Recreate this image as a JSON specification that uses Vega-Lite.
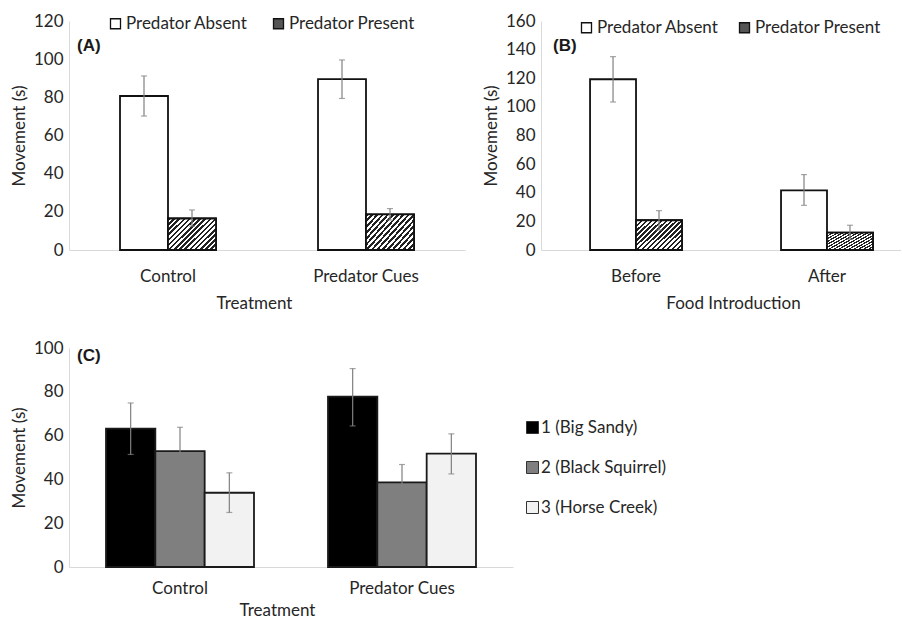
{
  "$schema": "https://vega.github.io/schema/vega-lite/v6.json",
  "padding": {"left": 10, "top": 12, "right": 0, "bottom": 0},
  "background": "white",
  "datasets": {
    "A": [
      {"cat": "Control", "group": "Predator Absent", "mean": 80.7, "lo": 70.2, "hi": 91.2},
      {"cat": "Control", "group": "Predator Present", "mean": 16.5, "lo": 12.5, "hi": 21},
      {"cat": "Predator Cues", "group": "Predator Absent", "mean": 89.5, "lo": 79.4, "hi": 99.6},
      {"cat": "Predator Cues", "group": "Predator Present", "mean": 18.7, "lo": 15.7, "hi": 21.7}
    ],
    "B": [
      {"cat": "Before", "group": "Predator Absent", "mean": 119.3, "lo": 103.4, "hi": 135.1},
      {"cat": "Before", "group": "Predator Present", "mean": 20.8, "lo": 14, "hi": 27.5},
      {"cat": "After", "group": "Predator Absent", "mean": 41.7, "lo": 31.2, "hi": 52.7},
      {"cat": "After", "group": "Predator Present", "mean": 12.2, "lo": 7.5, "hi": 17.3}
    ],
    "C": [
      {"cat": "Control", "site": "1 (Big Sandy)", "mean": 63.2, "lo": 51.4, "hi": 74.9},
      {"cat": "Control", "site": "2 (Black Squirrel)", "mean": 52.9, "lo": 42.3, "hi": 63.8},
      {"cat": "Control", "site": "3 (Horse Creek)", "mean": 33.9, "lo": 24.9, "hi": 43},
      {"cat": "Predator Cues", "site": "1 (Big Sandy)", "mean": 77.8, "lo": 64.4, "hi": 90.6},
      {"cat": "Predator Cues", "site": "2 (Black Squirrel)", "mean": 38.6, "lo": 30.7, "hi": 46.8},
      {"cat": "Predator Cues", "site": "3 (Horse Creek)", "mean": 51.8, "lo": 42.5, "hi": 60.8}
    ]
  },
  "config": {
    "font": "Lato",
    "view": {"stroke": null},
    "axis": {"labelFontSize": 17, "titleFontSize": 17, "titleFontWeight": "normal", "labelColor": "#262626", "titleColor": "#262626", "domainColor": "#d9d9d9", "domainWidth": 1, "ticks": false, "grid": false, "labelFont": "Lato", "titleFont": "Lato", "labelOverlap": false},
    "axisX": {"labelAngle": 0, "labelPadding": 18, "titlePadding": 11},
    "axisY": {"labelPadding": 6, "titlePadding": 5, "labelOverlap": false, "labelSeparation": 0},
    "legend": {"labelFontSize": 17, "labelColor": "#262626", "labelFont": "Lato"},
    "title": {"font": "Liberation Sans", "fontSize": 17, "fontWeight": "bold", "color": "#1a1a1a", "anchor": "start", "frame": "group", "baseline": "middle"}
  },
  "resolve": {"scale": {"x": "independent", "y": "independent", "xOffset": "independent", "fill": "independent"}, "legend": {"fill": "independent"}, "axis": {"x": "independent", "y": "independent"}},
  "spacing": 28,
  "vconcat": [
    {
      "spacing": 17,
      "resolve": {"scale": {"x": "independent", "y": "independent", "xOffset": "independent", "fill": "independent"}, "legend": {"fill": "independent"}, "axis": {"x": "independent", "y": "independent"}},
      "hconcat": [
        {
          "width": 396, "height": 229,
          "title": {"text": "(A)", "dx": 8, "offset": -42.5},
          "data": {"name": "A"},
          "layer": [
            {
              "mark": {"type": "bar", "stroke": "#111111", "strokeWidth": 1.8},
              "encoding": {
                "x": {"field": "cat", "type": "nominal", "scale": {"domain": ["Control", "Predator Cues"], "paddingInner": 0.25, "paddingOuter": 0.125, "align": 0.5}, "axis": {"title": "Treatment", "titleX": 185}},
                "xOffset": {"field": "group", "type": "nominal", "scale": {"domain": ["Predator Absent", "Predator Present"], "paddingInner": 0, "paddingOuter": 0.547}},
                "y": {"field": "mean", "type": "quantitative", "scale": {"domain": [0, 120]}, "axis": {"title": "Movement (s)", "values": [0, 20, 40, 60, 80, 100, 120], "labelOverlap": false}},
                "fill": {"field": "group", "type": "nominal", "scale": {"domain": ["Predator Absent", "Predator Present"], "range": ["#ffffff", "#555555"]},
                  "legend": {"orient": "none", "legendX": 38, "legendY": -6, "direction": "horizontal", "title": null, "symbolType": "square", "symbolSize": 100, "labelOffset": 2, "columnPadding": 22, "symbolStrokeColor": "#111111", "symbolStrokeWidth": 1.3,
                    "encode": {"symbols": {"update": {"fill": [{"test": "datum.value === 'Predator Present'", "value": {"gradient": "linear", "x1": 0, "y1": 0, "x2": 1, "y2": 1, "stops": [{"offset": 0, "color": "#222222"}, {"offset": 0.1, "color": "#222222"}, {"offset": 0.1, "color": "#ffffff"}, {"offset": 0.2, "color": "#ffffff"}, {"offset": 0.2, "color": "#222222"}, {"offset": 0.3, "color": "#222222"}, {"offset": 0.3, "color": "#ffffff"}, {"offset": 0.4, "color": "#ffffff"}, {"offset": 0.4, "color": "#222222"}, {"offset": 0.5, "color": "#222222"}, {"offset": 0.5, "color": "#ffffff"}, {"offset": 0.6, "color": "#ffffff"}, {"offset": 0.6, "color": "#222222"}, {"offset": 0.7, "color": "#222222"}, {"offset": 0.7, "color": "#ffffff"}, {"offset": 0.8, "color": "#ffffff"}, {"offset": 0.8, "color": "#222222"}, {"offset": 0.9, "color": "#222222"}, {"offset": 0.9, "color": "#ffffff"}, {"offset": 1, "color": "#ffffff"}]}}, {"value": "#ffffff"}], "stroke": {"value": "#111111"}, "strokeWidth": {"value": 1.3}}}}
                  }
                }
              }
            },
            {
              "transform": [{"filter": "datum.group === 'Predator Present'"}],
              "mark": {"type": "bar", "stroke": "#111111", "strokeWidth": 1.8, "fill": {"gradient": "linear", "x1": 0, "y1": 0, "x2": 1.2, "y2": 0.8, "stops": [{"offset": 0, "color": "#222222"}, {"offset": 0.03125, "color": "#222222"}, {"offset": 0.03125, "color": "#ffffff"}, {"offset": 0.0625, "color": "#ffffff"}, {"offset": 0.0625, "color": "#222222"}, {"offset": 0.09375, "color": "#222222"}, {"offset": 0.09375, "color": "#ffffff"}, {"offset": 0.125, "color": "#ffffff"}, {"offset": 0.125, "color": "#222222"}, {"offset": 0.15625, "color": "#222222"}, {"offset": 0.15625, "color": "#ffffff"}, {"offset": 0.1875, "color": "#ffffff"}, {"offset": 0.1875, "color": "#222222"}, {"offset": 0.21875, "color": "#222222"}, {"offset": 0.21875, "color": "#ffffff"}, {"offset": 0.25, "color": "#ffffff"}, {"offset": 0.25, "color": "#222222"}, {"offset": 0.28125, "color": "#222222"}, {"offset": 0.28125, "color": "#ffffff"}, {"offset": 0.3125, "color": "#ffffff"}, {"offset": 0.3125, "color": "#222222"}, {"offset": 0.34375, "color": "#222222"}, {"offset": 0.34375, "color": "#ffffff"}, {"offset": 0.375, "color": "#ffffff"}, {"offset": 0.375, "color": "#222222"}, {"offset": 0.40625, "color": "#222222"}, {"offset": 0.40625, "color": "#ffffff"}, {"offset": 0.4375, "color": "#ffffff"}, {"offset": 0.4375, "color": "#222222"}, {"offset": 0.46875, "color": "#222222"}, {"offset": 0.46875, "color": "#ffffff"}, {"offset": 0.5, "color": "#ffffff"}, {"offset": 0.5, "color": "#222222"}, {"offset": 0.53125, "color": "#222222"}, {"offset": 0.53125, "color": "#ffffff"}, {"offset": 0.5625, "color": "#ffffff"}, {"offset": 0.5625, "color": "#222222"}, {"offset": 0.59375, "color": "#222222"}, {"offset": 0.59375, "color": "#ffffff"}, {"offset": 0.625, "color": "#ffffff"}, {"offset": 0.625, "color": "#222222"}, {"offset": 0.65625, "color": "#222222"}, {"offset": 0.65625, "color": "#ffffff"}, {"offset": 0.6875, "color": "#ffffff"}, {"offset": 0.6875, "color": "#222222"}, {"offset": 0.71875, "color": "#222222"}, {"offset": 0.71875, "color": "#ffffff"}, {"offset": 0.75, "color": "#ffffff"}, {"offset": 0.75, "color": "#222222"}, {"offset": 0.78125, "color": "#222222"}, {"offset": 0.78125, "color": "#ffffff"}, {"offset": 0.8125, "color": "#ffffff"}, {"offset": 0.8125, "color": "#222222"}, {"offset": 0.84375, "color": "#222222"}, {"offset": 0.84375, "color": "#ffffff"}, {"offset": 0.875, "color": "#ffffff"}, {"offset": 0.875, "color": "#222222"}, {"offset": 0.90625, "color": "#222222"}, {"offset": 0.90625, "color": "#ffffff"}, {"offset": 0.9375, "color": "#ffffff"}, {"offset": 0.9375, "color": "#222222"}, {"offset": 0.96875, "color": "#222222"}, {"offset": 0.96875, "color": "#ffffff"}, {"offset": 1, "color": "#ffffff"}]}},
              "encoding": {
                "x": {"field": "cat", "type": "nominal", "title": "Treatment"},
                "xOffset": {"field": "group", "type": "nominal"},
                "y": {"field": "mean", "type": "quantitative", "axis": {"title": "Movement (s)", "values": [0, 20, 40, 60, 80, 100, 120], "labelOverlap": false}}
              }
            },
            {
              "mark": {"type": "rule", "color": "#808080", "strokeWidth": 1.2},
              "encoding": {
                "x": {"field": "cat", "type": "nominal", "title": "Treatment"},
                "xOffset": {"field": "group", "type": "nominal"},
                "y": {"field": "lo", "type": "quantitative", "axis": {"title": "Movement (s)", "values": [0, 20, 40, 60, 80, 100, 120], "labelOverlap": false}},
                "y2": {"field": "hi"}
              }
            },
            {
              "mark": {"type": "tick", "color": "#808080", "thickness": 1.2, "size": 6},
              "encoding": {
                "x": {"field": "cat", "type": "nominal", "title": "Treatment"},
                "xOffset": {"field": "group", "type": "nominal"},
                "y": {"field": "lo", "type": "quantitative", "axis": {"title": "Movement (s)", "values": [0, 20, 40, 60, 80, 100, 120], "labelOverlap": false}}
              }
            },
            {
              "mark": {"type": "tick", "color": "#808080", "thickness": 1.2, "size": 6},
              "encoding": {
                "x": {"field": "cat", "type": "nominal", "title": "Treatment"},
                "xOffset": {"field": "group", "type": "nominal"},
                "y": {"field": "hi", "type": "quantitative", "axis": {"title": "Movement (s)", "values": [0, 20, 40, 60, 80, 100, 120], "labelOverlap": false}}
              }
            }
          ]
        },
        {
          "width": 360, "height": 229,
          "title": {"text": "(B)", "dx": 12, "offset": -42.8},
          "data": {"name": "B"},
          "layer": [
            {
              "mark": {"type": "bar", "stroke": "#111111", "strokeWidth": 1.8},
              "encoding": {
                "x": {"field": "cat", "type": "nominal", "scale": {"domain": ["Before", "After"], "paddingInner": 0.225, "paddingOuter": 0.055, "align": 1}, "axis": {"title": "Food Introduction", "titleX": 192}},
                "xOffset": {"field": "group", "type": "nominal", "scale": {"domain": ["Predator Absent", "Predator Present"], "paddingInner": 0, "paddingOuter": 0.61}},
                "y": {"field": "mean", "type": "quantitative", "scale": {"domain": [0, 160]}, "axis": {"title": "Movement (s)", "tickCount": 8, "labelOverlap": false}},
                "fill": {"field": "group", "type": "nominal", "scale": {"domain": ["Predator Absent", "Predator Present"], "range": ["#ffffff", "#555555"]},
                  "legend": {"orient": "none", "legendX": 37, "legendY": -2, "direction": "horizontal", "title": null, "symbolType": "square", "symbolSize": 100, "labelOffset": 2, "columnPadding": 17, "symbolStrokeColor": "#111111", "symbolStrokeWidth": 1.3,
                    "encode": {"symbols": {"update": {"fill": [{"test": "datum.value === 'Predator Present'", "value": {"gradient": "linear", "x1": 0, "y1": 0, "x2": 1, "y2": 1, "stops": [{"offset": 0, "color": "#222222"}, {"offset": 0.1, "color": "#222222"}, {"offset": 0.1, "color": "#ffffff"}, {"offset": 0.2, "color": "#ffffff"}, {"offset": 0.2, "color": "#222222"}, {"offset": 0.3, "color": "#222222"}, {"offset": 0.3, "color": "#ffffff"}, {"offset": 0.4, "color": "#ffffff"}, {"offset": 0.4, "color": "#222222"}, {"offset": 0.5, "color": "#222222"}, {"offset": 0.5, "color": "#ffffff"}, {"offset": 0.6, "color": "#ffffff"}, {"offset": 0.6, "color": "#222222"}, {"offset": 0.7, "color": "#222222"}, {"offset": 0.7, "color": "#ffffff"}, {"offset": 0.8, "color": "#ffffff"}, {"offset": 0.8, "color": "#222222"}, {"offset": 0.9, "color": "#222222"}, {"offset": 0.9, "color": "#ffffff"}, {"offset": 1, "color": "#ffffff"}]}}, {"value": "#ffffff"}], "stroke": {"value": "#111111"}, "strokeWidth": {"value": 1.3}}}}
                  }
                }
              }
            },
            {
              "transform": [{"filter": "datum.group === 'Predator Present'"}],
              "mark": {"type": "bar", "stroke": "#111111", "strokeWidth": 1.8, "fill": {"gradient": "linear", "x1": 0, "y1": 0, "x2": 1.2, "y2": 0.8, "stops": [{"offset": 0, "color": "#222222"}, {"offset": 0.03125, "color": "#222222"}, {"offset": 0.03125, "color": "#ffffff"}, {"offset": 0.0625, "color": "#ffffff"}, {"offset": 0.0625, "color": "#222222"}, {"offset": 0.09375, "color": "#222222"}, {"offset": 0.09375, "color": "#ffffff"}, {"offset": 0.125, "color": "#ffffff"}, {"offset": 0.125, "color": "#222222"}, {"offset": 0.15625, "color": "#222222"}, {"offset": 0.15625, "color": "#ffffff"}, {"offset": 0.1875, "color": "#ffffff"}, {"offset": 0.1875, "color": "#222222"}, {"offset": 0.21875, "color": "#222222"}, {"offset": 0.21875, "color": "#ffffff"}, {"offset": 0.25, "color": "#ffffff"}, {"offset": 0.25, "color": "#222222"}, {"offset": 0.28125, "color": "#222222"}, {"offset": 0.28125, "color": "#ffffff"}, {"offset": 0.3125, "color": "#ffffff"}, {"offset": 0.3125, "color": "#222222"}, {"offset": 0.34375, "color": "#222222"}, {"offset": 0.34375, "color": "#ffffff"}, {"offset": 0.375, "color": "#ffffff"}, {"offset": 0.375, "color": "#222222"}, {"offset": 0.40625, "color": "#222222"}, {"offset": 0.40625, "color": "#ffffff"}, {"offset": 0.4375, "color": "#ffffff"}, {"offset": 0.4375, "color": "#222222"}, {"offset": 0.46875, "color": "#222222"}, {"offset": 0.46875, "color": "#ffffff"}, {"offset": 0.5, "color": "#ffffff"}, {"offset": 0.5, "color": "#222222"}, {"offset": 0.53125, "color": "#222222"}, {"offset": 0.53125, "color": "#ffffff"}, {"offset": 0.5625, "color": "#ffffff"}, {"offset": 0.5625, "color": "#222222"}, {"offset": 0.59375, "color": "#222222"}, {"offset": 0.59375, "color": "#ffffff"}, {"offset": 0.625, "color": "#ffffff"}, {"offset": 0.625, "color": "#222222"}, {"offset": 0.65625, "color": "#222222"}, {"offset": 0.65625, "color": "#ffffff"}, {"offset": 0.6875, "color": "#ffffff"}, {"offset": 0.6875, "color": "#222222"}, {"offset": 0.71875, "color": "#222222"}, {"offset": 0.71875, "color": "#ffffff"}, {"offset": 0.75, "color": "#ffffff"}, {"offset": 0.75, "color": "#222222"}, {"offset": 0.78125, "color": "#222222"}, {"offset": 0.78125, "color": "#ffffff"}, {"offset": 0.8125, "color": "#ffffff"}, {"offset": 0.8125, "color": "#222222"}, {"offset": 0.84375, "color": "#222222"}, {"offset": 0.84375, "color": "#ffffff"}, {"offset": 0.875, "color": "#ffffff"}, {"offset": 0.875, "color": "#222222"}, {"offset": 0.90625, "color": "#222222"}, {"offset": 0.90625, "color": "#ffffff"}, {"offset": 0.9375, "color": "#ffffff"}, {"offset": 0.9375, "color": "#222222"}, {"offset": 0.96875, "color": "#222222"}, {"offset": 0.96875, "color": "#ffffff"}, {"offset": 1, "color": "#ffffff"}]}},
              "encoding": {
                "x": {"field": "cat", "type": "nominal", "title": "Food Introduction"},
                "xOffset": {"field": "group", "type": "nominal"},
                "y": {"field": "mean", "type": "quantitative", "axis": {"title": "Movement (s)", "tickCount": 8, "labelOverlap": false}}
              }
            },
            {
              "mark": {"type": "rule", "color": "#808080", "strokeWidth": 1.2},
              "encoding": {
                "x": {"field": "cat", "type": "nominal", "title": "Food Introduction"},
                "xOffset": {"field": "group", "type": "nominal"},
                "y": {"field": "lo", "type": "quantitative", "axis": {"title": "Movement (s)", "tickCount": 8, "labelOverlap": false}},
                "y2": {"field": "hi"}
              }
            },
            {
              "mark": {"type": "tick", "color": "#808080", "thickness": 1.2, "size": 6},
              "encoding": {
                "x": {"field": "cat", "type": "nominal", "title": "Food Introduction"},
                "xOffset": {"field": "group", "type": "nominal"},
                "y": {"field": "lo", "type": "quantitative", "axis": {"title": "Movement (s)", "tickCount": 8, "labelOverlap": false}}
              }
            },
            {
              "mark": {"type": "tick", "color": "#808080", "thickness": 1.2, "size": 6},
              "encoding": {
                "x": {"field": "cat", "type": "nominal", "title": "Food Introduction"},
                "xOffset": {"field": "group", "type": "nominal"},
                "y": {"field": "hi", "type": "quantitative", "axis": {"title": "Movement (s)", "tickCount": 8, "labelOverlap": false}}
              }
            }
          ]
        }
      ]
    },
    {
      "width": 444, "height": 219,
      "title": {"text": "(C)", "dx": 8, "offset": -26},
      "data": {"name": "C"},
      "layer": [
        {
          "mark": {"type": "bar", "stroke": "#1a1a1a", "strokeWidth": 1.8},
          "encoding": {
            "x": {"field": "cat", "type": "nominal", "scale": {"domain": ["Control", "Predator Cues"], "paddingInner": 0, "paddingOuter": 0}, "axis": {"title": "Treatment", "titleX": 208, "labelPadding": 13, "titlePadding": 6}},
            "xOffset": {"field": "site", "type": "nominal", "scale": {"domain": ["1 (Big Sandy)", "2 (Black Squirrel)", "3 (Horse Creek)"], "paddingInner": 0, "paddingOuter": 0.75}},
            "y": {"field": "mean", "type": "quantitative", "scale": {"domain": [0, 100]}, "axis": {"title": "Movement (s)", "values": [0, 20, 40, 60, 80, 100], "labelOverlap": false}},
            "fill": {"field": "site", "type": "nominal", "scale": {"domain": ["1 (Big Sandy)", "2 (Black Squirrel)", "3 (Horse Creek)"], "range": ["#000000", "#7f7f7f", "#f2f2f2"]},
              "legend": {"orient": "none", "legendX": 455, "legendY": 71, "direction": "vertical", "title": null, "symbolType": "square", "symbolSize": 144, "labelOffset": 0, "rowPadding": 22, "symbolStrokeColor": "#333333", "symbolStrokeWidth": 1,
                "encode": {"symbols": {"update": {"stroke": {"value": "#333333"}, "strokeWidth": {"value": 1}}}}}
            }
          }
        },
        {
          "mark": {"type": "rule", "color": "#808080", "strokeWidth": 1.2},
          "encoding": {
            "x": {"field": "cat", "type": "nominal", "title": "Treatment"},
            "xOffset": {"field": "site", "type": "nominal"},
            "y": {"field": "lo", "type": "quantitative", "title": "Movement (s)"},
            "y2": {"field": "hi"}
          }
        },
        {
          "mark": {"type": "tick", "color": "#808080", "thickness": 1.2, "size": 6},
          "encoding": {
            "x": {"field": "cat", "type": "nominal", "title": "Treatment"},
            "xOffset": {"field": "site", "type": "nominal"},
            "y": {"field": "lo", "type": "quantitative", "title": "Movement (s)"}
          }
        },
        {
          "mark": {"type": "tick", "color": "#808080", "thickness": 1.2, "size": 6},
          "encoding": {
            "x": {"field": "cat", "type": "nominal", "title": "Treatment"},
            "xOffset": {"field": "site", "type": "nominal"},
            "y": {"field": "hi", "type": "quantitative", "title": "Movement (s)"}
          }
        }
      ]
    }
  ]
}
